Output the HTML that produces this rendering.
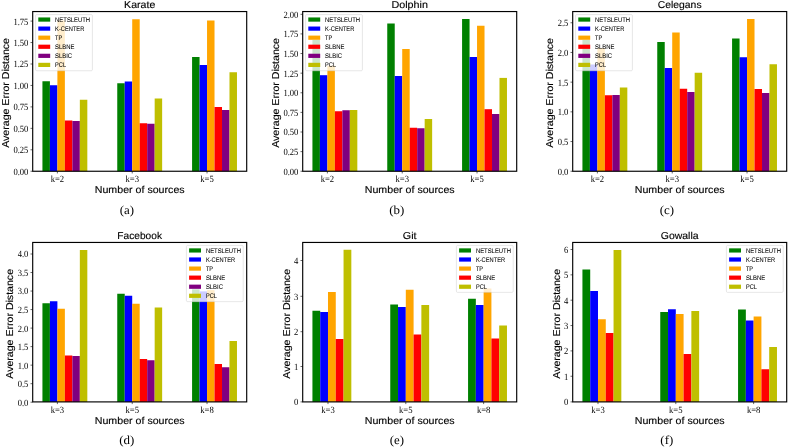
<!DOCTYPE html>
<html>
<head>
<meta charset="utf-8">
<title>Average Error Distance</title>
<style>
html,body{margin:0;padding:0;background:#fff;}
body{width:788px;height:448px;overflow:hidden;font-family:"Liberation Sans",sans-serif;}
svg{display:block;will-change:transform;}
text{fill:#000;}
</style>
</head>
<body>
<svg width="788" height="448" viewBox="0 0 788 448" text-rendering="geometricPrecision">
<defs><filter id="gs" filterUnits="userSpaceOnUse" x="0" y="0" width="788" height="448"><feOffset dx="0" dy="0"/></filter></defs>
<rect x="0" y="0" width="788" height="448" fill="#fff"/>
<g filter="url(#gs)">
<g>
<rect x="42.43" y="81.25" width="7.48" height="90" fill="#008000"/>
<rect x="49.91" y="85.25" width="7.48" height="86" fill="#0000ff"/>
<rect x="57.39" y="20.5" width="7.48" height="150.75" fill="#ffa500"/>
<rect x="64.87" y="120.5" width="7.48" height="50.75" fill="#ff0000"/>
<rect x="72.36" y="121" width="7.48" height="50.25" fill="#800080"/>
<rect x="79.84" y="99.75" width="7.48" height="71.5" fill="#bfbf00"/>
<rect x="117.25" y="83.25" width="7.48" height="88" fill="#008000"/>
<rect x="124.73" y="81.5" width="7.48" height="89.75" fill="#0000ff"/>
<rect x="132.22" y="19.25" width="7.48" height="152" fill="#ffa500"/>
<rect x="139.7" y="123.25" width="7.48" height="48" fill="#ff0000"/>
<rect x="147.18" y="123.75" width="7.48" height="47.5" fill="#800080"/>
<rect x="154.67" y="98.5" width="7.48" height="72.75" fill="#bfbf00"/>
<rect x="192.08" y="57" width="7.48" height="114.25" fill="#008000"/>
<rect x="199.56" y="65" width="7.48" height="106.25" fill="#0000ff"/>
<rect x="207.04" y="20.5" width="7.48" height="150.75" fill="#ffa500"/>
<rect x="214.53" y="107" width="7.48" height="64.25" fill="#ff0000"/>
<rect x="222.01" y="110" width="7.48" height="61.25" fill="#800080"/>
<rect x="229.49" y="72.25" width="7.48" height="99" fill="#bfbf00"/>
<path d="M57.39 171.25v2.2M132.22 171.25v2.2M207.04 171.25v2.2M32.7 171.25h-2.2M32.7 149.8h-2.2M32.7 128.35h-2.2M32.7 106.9h-2.2M32.7 85.45h-2.2M32.7 64h-2.2M32.7 42.55h-2.2M32.7 21.1h-2.2" stroke="#000" stroke-width="0.6" fill="none"/>
<rect x="32.7" y="11.55" width="214" height="159.7" fill="none" stroke="#000" stroke-width="1.15"/>
<text x="57.39" y="182" font-family='"Liberation Serif", serif' font-size="9.5" text-anchor="middle" textLength="13.5" lengthAdjust="spacingAndGlyphs" >k=2</text>
<text x="132.22" y="182" font-family='"Liberation Serif", serif' font-size="9.5" text-anchor="middle" textLength="13.5" lengthAdjust="spacingAndGlyphs" >k=3</text>
<text x="207.04" y="182" font-family='"Liberation Serif", serif' font-size="9.5" text-anchor="middle" textLength="13.5" lengthAdjust="spacingAndGlyphs" >k=5</text>
<text x="28.4" y="174.65" font-family='"Liberation Serif", serif' font-size="9.5" text-anchor="end" textLength="15" lengthAdjust="spacingAndGlyphs" >0.00</text>
<text x="28.4" y="153.2" font-family='"Liberation Serif", serif' font-size="9.5" text-anchor="end" textLength="15" lengthAdjust="spacingAndGlyphs" >0.25</text>
<text x="28.4" y="131.75" font-family='"Liberation Serif", serif' font-size="9.5" text-anchor="end" textLength="15" lengthAdjust="spacingAndGlyphs" >0.50</text>
<text x="28.4" y="110.3" font-family='"Liberation Serif", serif' font-size="9.5" text-anchor="end" textLength="15" lengthAdjust="spacingAndGlyphs" >0.75</text>
<text x="28.4" y="88.85" font-family='"Liberation Serif", serif' font-size="9.5" text-anchor="end" textLength="15" lengthAdjust="spacingAndGlyphs" >1.00</text>
<text x="28.4" y="67.4" font-family='"Liberation Serif", serif' font-size="9.5" text-anchor="end" textLength="15" lengthAdjust="spacingAndGlyphs" >1.25</text>
<text x="28.4" y="45.95" font-family='"Liberation Serif", serif' font-size="9.5" text-anchor="end" textLength="15" lengthAdjust="spacingAndGlyphs" >1.50</text>
<text x="28.4" y="24.5" font-family='"Liberation Serif", serif' font-size="9.5" text-anchor="end" textLength="15" lengthAdjust="spacingAndGlyphs" >1.75</text>
<text x="139.7" y="8.05" font-family='"Liberation Sans", sans-serif' font-size="10" text-anchor="middle" textLength="31.18" lengthAdjust="spacingAndGlyphs" stroke="#000" stroke-width="0.14">Karate</text>
<text x="139.7" y="192.95" font-family='"Liberation Sans", sans-serif' font-size="10" text-anchor="middle" textLength="89.86" lengthAdjust="spacingAndGlyphs" stroke="#000" stroke-width="0.14">Number of sources</text>
<text transform="translate(8.5 92.95) rotate(-90)" font-family='"Liberation Sans", sans-serif' font-size="10" text-anchor="middle" textLength="109.75" lengthAdjust="spacingAndGlyphs" stroke="#000" stroke-width="0.14">Average Error Distance</text>
<text x="126.8" y="213.55" font-family='"Liberation Serif", serif' font-size="12.2" text-anchor="middle" textLength="14.35" lengthAdjust="spacingAndGlyphs" >(a)</text>
<rect x="35.6" y="14.55" width="56.8" height="56.2" rx="1.2" ry="1.2" fill="#fff" fill-opacity="0.8" stroke="#ccc" stroke-opacity="0.8" stroke-width="0.6"/>
<rect x="38.3" y="17.45" width="11.9" height="4.2" fill="#008000"/>
<text x="55.1" y="21.75" font-family='"Liberation Sans", sans-serif' font-size="6.7" text-anchor="start" textLength="35.04" lengthAdjust="spacingAndGlyphs" stroke="#000" stroke-width="0.06">NETSLEUTH</text>
<rect x="38.3" y="26.52" width="11.9" height="4.2" fill="#0000ff"/>
<text x="55.1" y="30.82" font-family='"Liberation Sans", sans-serif' font-size="6.7" text-anchor="start" textLength="29.22" lengthAdjust="spacingAndGlyphs" stroke="#000" stroke-width="0.06">K-CENTER</text>
<rect x="38.3" y="35.59" width="11.9" height="4.2" fill="#ffa500"/>
<text x="55.1" y="39.89" font-family='"Liberation Sans", sans-serif' font-size="6.7" text-anchor="start" textLength="7.2" lengthAdjust="spacingAndGlyphs" stroke="#000" stroke-width="0.06">TP</text>
<rect x="38.3" y="44.66" width="11.9" height="4.2" fill="#ff0000"/>
<text x="55.1" y="48.96" font-family='"Liberation Sans", sans-serif' font-size="6.7" text-anchor="start" textLength="19.32" lengthAdjust="spacingAndGlyphs" stroke="#000" stroke-width="0.06">SLBNE</text>
<rect x="38.3" y="53.73" width="11.9" height="4.2" fill="#800080"/>
<text x="55.1" y="58.03" font-family='"Liberation Sans", sans-serif' font-size="6.7" text-anchor="start" textLength="17.03" lengthAdjust="spacingAndGlyphs" stroke="#000" stroke-width="0.06">SLBIC</text>
<rect x="38.3" y="62.8" width="11.9" height="4.2" fill="#bfbf00"/>
<text x="55.1" y="67.1" font-family='"Liberation Sans", sans-serif' font-size="6.7" text-anchor="start" textLength="11.02" lengthAdjust="spacingAndGlyphs" stroke="#000" stroke-width="0.06">PCL</text>
</g>
<g>
<rect x="312.43" y="40" width="7.48" height="131.25" fill="#008000"/>
<rect x="319.91" y="75.2" width="7.48" height="96.05" fill="#0000ff"/>
<rect x="327.39" y="65.75" width="7.48" height="105.5" fill="#ffa500"/>
<rect x="334.87" y="111.25" width="7.48" height="60" fill="#ff0000"/>
<rect x="342.36" y="110.25" width="7.48" height="61" fill="#800080"/>
<rect x="349.84" y="110" width="7.48" height="61.25" fill="#bfbf00"/>
<rect x="387.25" y="23.5" width="7.48" height="147.75" fill="#008000"/>
<rect x="394.73" y="76" width="7.48" height="95.25" fill="#0000ff"/>
<rect x="402.22" y="49" width="7.48" height="122.25" fill="#ffa500"/>
<rect x="409.7" y="127.75" width="7.48" height="43.5" fill="#ff0000"/>
<rect x="417.18" y="128.25" width="7.48" height="43" fill="#800080"/>
<rect x="424.67" y="119" width="7.48" height="52.25" fill="#bfbf00"/>
<rect x="462.08" y="19" width="7.48" height="152.25" fill="#008000"/>
<rect x="469.56" y="57" width="7.48" height="114.25" fill="#0000ff"/>
<rect x="477.04" y="25.75" width="7.48" height="145.5" fill="#ffa500"/>
<rect x="484.53" y="109.2" width="7.48" height="62.05" fill="#ff0000"/>
<rect x="492.01" y="114" width="7.48" height="57.25" fill="#800080"/>
<rect x="499.49" y="77.9" width="7.48" height="93.35" fill="#bfbf00"/>
<path d="M327.39 171.25v2.2M402.22 171.25v2.2M477.04 171.25v2.2M302.7 171.25h-2.2M302.7 151.63h-2.2M302.7 132.01h-2.2M302.7 112.39h-2.2M302.7 92.78h-2.2M302.7 73.16h-2.2M302.7 53.54h-2.2M302.7 33.92h-2.2M302.7 14.3h-2.2" stroke="#000" stroke-width="0.6" fill="none"/>
<rect x="302.7" y="11.55" width="214" height="159.7" fill="none" stroke="#000" stroke-width="1.15"/>
<text x="327.39" y="182" font-family='"Liberation Serif", serif' font-size="9.5" text-anchor="middle" textLength="13.5" lengthAdjust="spacingAndGlyphs" >k=2</text>
<text x="402.22" y="182" font-family='"Liberation Serif", serif' font-size="9.5" text-anchor="middle" textLength="13.5" lengthAdjust="spacingAndGlyphs" >k=3</text>
<text x="477.04" y="182" font-family='"Liberation Serif", serif' font-size="9.5" text-anchor="middle" textLength="13.5" lengthAdjust="spacingAndGlyphs" >k=5</text>
<text x="298.4" y="174.65" font-family='"Liberation Serif", serif' font-size="9.5" text-anchor="end" textLength="15" lengthAdjust="spacingAndGlyphs" >0.00</text>
<text x="298.4" y="155.03" font-family='"Liberation Serif", serif' font-size="9.5" text-anchor="end" textLength="15" lengthAdjust="spacingAndGlyphs" >0.25</text>
<text x="298.4" y="135.41" font-family='"Liberation Serif", serif' font-size="9.5" text-anchor="end" textLength="15" lengthAdjust="spacingAndGlyphs" >0.50</text>
<text x="298.4" y="115.79" font-family='"Liberation Serif", serif' font-size="9.5" text-anchor="end" textLength="15" lengthAdjust="spacingAndGlyphs" >0.75</text>
<text x="298.4" y="96.18" font-family='"Liberation Serif", serif' font-size="9.5" text-anchor="end" textLength="15" lengthAdjust="spacingAndGlyphs" >1.00</text>
<text x="298.4" y="76.56" font-family='"Liberation Serif", serif' font-size="9.5" text-anchor="end" textLength="15" lengthAdjust="spacingAndGlyphs" >1.25</text>
<text x="298.4" y="56.94" font-family='"Liberation Serif", serif' font-size="9.5" text-anchor="end" textLength="15" lengthAdjust="spacingAndGlyphs" >1.50</text>
<text x="298.4" y="37.32" font-family='"Liberation Serif", serif' font-size="9.5" text-anchor="end" textLength="15" lengthAdjust="spacingAndGlyphs" >1.75</text>
<text x="298.4" y="17.7" font-family='"Liberation Serif", serif' font-size="9.5" text-anchor="end" textLength="15" lengthAdjust="spacingAndGlyphs" >2.00</text>
<text x="409.7" y="8.05" font-family='"Liberation Sans", sans-serif' font-size="10" text-anchor="middle" textLength="36.48" lengthAdjust="spacingAndGlyphs" stroke="#000" stroke-width="0.14">Dolphin</text>
<text x="409.7" y="192.95" font-family='"Liberation Sans", sans-serif' font-size="10" text-anchor="middle" textLength="89.86" lengthAdjust="spacingAndGlyphs" stroke="#000" stroke-width="0.14">Number of sources</text>
<text transform="translate(278.5 92.95) rotate(-90)" font-family='"Liberation Sans", sans-serif' font-size="10" text-anchor="middle" textLength="109.75" lengthAdjust="spacingAndGlyphs" stroke="#000" stroke-width="0.14">Average Error Distance</text>
<text x="396.8" y="213.55" font-family='"Liberation Serif", serif' font-size="12.2" text-anchor="middle" textLength="15.08" lengthAdjust="spacingAndGlyphs" >(b)</text>
<rect x="305.6" y="14.55" width="56.8" height="56.2" rx="1.2" ry="1.2" fill="#fff" fill-opacity="0.8" stroke="#ccc" stroke-opacity="0.8" stroke-width="0.6"/>
<rect x="308.3" y="17.45" width="11.9" height="4.2" fill="#008000"/>
<text x="325.1" y="21.75" font-family='"Liberation Sans", sans-serif' font-size="6.7" text-anchor="start" textLength="35.04" lengthAdjust="spacingAndGlyphs" stroke="#000" stroke-width="0.06">NETSLEUTH</text>
<rect x="308.3" y="26.52" width="11.9" height="4.2" fill="#0000ff"/>
<text x="325.1" y="30.82" font-family='"Liberation Sans", sans-serif' font-size="6.7" text-anchor="start" textLength="29.22" lengthAdjust="spacingAndGlyphs" stroke="#000" stroke-width="0.06">K-CENTER</text>
<rect x="308.3" y="35.59" width="11.9" height="4.2" fill="#ffa500"/>
<text x="325.1" y="39.89" font-family='"Liberation Sans", sans-serif' font-size="6.7" text-anchor="start" textLength="7.2" lengthAdjust="spacingAndGlyphs" stroke="#000" stroke-width="0.06">TP</text>
<rect x="308.3" y="44.66" width="11.9" height="4.2" fill="#ff0000"/>
<text x="325.1" y="48.96" font-family='"Liberation Sans", sans-serif' font-size="6.7" text-anchor="start" textLength="19.32" lengthAdjust="spacingAndGlyphs" stroke="#000" stroke-width="0.06">SLBNE</text>
<rect x="308.3" y="53.73" width="11.9" height="4.2" fill="#800080"/>
<text x="325.1" y="58.03" font-family='"Liberation Sans", sans-serif' font-size="6.7" text-anchor="start" textLength="17.03" lengthAdjust="spacingAndGlyphs" stroke="#000" stroke-width="0.06">SLBIC</text>
<rect x="308.3" y="62.8" width="11.9" height="4.2" fill="#bfbf00"/>
<text x="325.1" y="67.1" font-family='"Liberation Sans", sans-serif' font-size="6.7" text-anchor="start" textLength="11.02" lengthAdjust="spacingAndGlyphs" stroke="#000" stroke-width="0.06">PCL</text>
</g>
<g>
<rect x="582.43" y="40" width="7.48" height="131.25" fill="#008000"/>
<rect x="589.91" y="64.5" width="7.48" height="106.75" fill="#0000ff"/>
<rect x="597.39" y="48" width="7.48" height="123.25" fill="#ffa500"/>
<rect x="604.87" y="95.25" width="7.48" height="76" fill="#ff0000"/>
<rect x="612.36" y="95" width="7.48" height="76.25" fill="#800080"/>
<rect x="619.84" y="87.5" width="7.48" height="83.75" fill="#bfbf00"/>
<rect x="657.25" y="42" width="7.48" height="129.25" fill="#008000"/>
<rect x="664.73" y="68" width="7.48" height="103.25" fill="#0000ff"/>
<rect x="672.22" y="32.5" width="7.48" height="138.75" fill="#ffa500"/>
<rect x="679.7" y="88.75" width="7.48" height="82.5" fill="#ff0000"/>
<rect x="687.18" y="92" width="7.48" height="79.25" fill="#800080"/>
<rect x="694.67" y="72.75" width="7.48" height="98.5" fill="#bfbf00"/>
<rect x="732.08" y="38.5" width="7.48" height="132.75" fill="#008000"/>
<rect x="739.56" y="57.25" width="7.48" height="114" fill="#0000ff"/>
<rect x="747.04" y="19" width="7.48" height="152.25" fill="#ffa500"/>
<rect x="754.53" y="89" width="7.48" height="82.25" fill="#ff0000"/>
<rect x="762.01" y="93" width="7.48" height="78.25" fill="#800080"/>
<rect x="769.49" y="64.25" width="7.48" height="107" fill="#bfbf00"/>
<path d="M597.39 171.25v2.2M672.22 171.25v2.2M747.04 171.25v2.2M572.7 171.25h-2.2M572.7 141.55h-2.2M572.7 111.85h-2.2M572.7 82.15h-2.2M572.7 52.45h-2.2M572.7 22.75h-2.2" stroke="#000" stroke-width="0.6" fill="none"/>
<rect x="572.7" y="11.55" width="214" height="159.7" fill="none" stroke="#000" stroke-width="1.15"/>
<text x="597.39" y="182" font-family='"Liberation Serif", serif' font-size="9.5" text-anchor="middle" textLength="13.5" lengthAdjust="spacingAndGlyphs" >k=2</text>
<text x="672.22" y="182" font-family='"Liberation Serif", serif' font-size="9.5" text-anchor="middle" textLength="13.5" lengthAdjust="spacingAndGlyphs" >k=3</text>
<text x="747.04" y="182" font-family='"Liberation Serif", serif' font-size="9.5" text-anchor="middle" textLength="13.5" lengthAdjust="spacingAndGlyphs" >k=5</text>
<text x="568.4" y="174.65" font-family='"Liberation Serif", serif' font-size="9.5" text-anchor="end" textLength="10.7" lengthAdjust="spacingAndGlyphs" >0.0</text>
<text x="568.4" y="144.95" font-family='"Liberation Serif", serif' font-size="9.5" text-anchor="end" textLength="10.7" lengthAdjust="spacingAndGlyphs" >0.5</text>
<text x="568.4" y="115.25" font-family='"Liberation Serif", serif' font-size="9.5" text-anchor="end" textLength="10.7" lengthAdjust="spacingAndGlyphs" >1.0</text>
<text x="568.4" y="85.55" font-family='"Liberation Serif", serif' font-size="9.5" text-anchor="end" textLength="10.7" lengthAdjust="spacingAndGlyphs" >1.5</text>
<text x="568.4" y="55.85" font-family='"Liberation Serif", serif' font-size="9.5" text-anchor="end" textLength="10.7" lengthAdjust="spacingAndGlyphs" >2.0</text>
<text x="568.4" y="26.15" font-family='"Liberation Serif", serif' font-size="9.5" text-anchor="end" textLength="10.7" lengthAdjust="spacingAndGlyphs" >2.5</text>
<text x="679.7" y="8.05" font-family='"Liberation Sans", sans-serif' font-size="10" text-anchor="middle" textLength="43.78" lengthAdjust="spacingAndGlyphs" stroke="#000" stroke-width="0.14">Celegans</text>
<text x="679.7" y="192.95" font-family='"Liberation Sans", sans-serif' font-size="10" text-anchor="middle" textLength="89.86" lengthAdjust="spacingAndGlyphs" stroke="#000" stroke-width="0.14">Number of sources</text>
<text transform="translate(552.8 92.95) rotate(-90)" font-family='"Liberation Sans", sans-serif' font-size="10" text-anchor="middle" textLength="109.75" lengthAdjust="spacingAndGlyphs" stroke="#000" stroke-width="0.14">Average Error Distance</text>
<text x="666.8" y="213.55" font-family='"Liberation Serif", serif' font-size="12.2" text-anchor="middle" textLength="14.35" lengthAdjust="spacingAndGlyphs" >(c)</text>
<rect x="575.6" y="14.55" width="56.8" height="56.2" rx="1.2" ry="1.2" fill="#fff" fill-opacity="0.8" stroke="#ccc" stroke-opacity="0.8" stroke-width="0.6"/>
<rect x="578.3" y="17.45" width="11.9" height="4.2" fill="#008000"/>
<text x="595.1" y="21.75" font-family='"Liberation Sans", sans-serif' font-size="6.7" text-anchor="start" textLength="35.04" lengthAdjust="spacingAndGlyphs" stroke="#000" stroke-width="0.06">NETSLEUTH</text>
<rect x="578.3" y="26.52" width="11.9" height="4.2" fill="#0000ff"/>
<text x="595.1" y="30.82" font-family='"Liberation Sans", sans-serif' font-size="6.7" text-anchor="start" textLength="29.22" lengthAdjust="spacingAndGlyphs" stroke="#000" stroke-width="0.06">K-CENTER</text>
<rect x="578.3" y="35.59" width="11.9" height="4.2" fill="#ffa500"/>
<text x="595.1" y="39.89" font-family='"Liberation Sans", sans-serif' font-size="6.7" text-anchor="start" textLength="7.2" lengthAdjust="spacingAndGlyphs" stroke="#000" stroke-width="0.06">TP</text>
<rect x="578.3" y="44.66" width="11.9" height="4.2" fill="#ff0000"/>
<text x="595.1" y="48.96" font-family='"Liberation Sans", sans-serif' font-size="6.7" text-anchor="start" textLength="19.32" lengthAdjust="spacingAndGlyphs" stroke="#000" stroke-width="0.06">SLBNE</text>
<rect x="578.3" y="53.73" width="11.9" height="4.2" fill="#800080"/>
<text x="595.1" y="58.03" font-family='"Liberation Sans", sans-serif' font-size="6.7" text-anchor="start" textLength="17.03" lengthAdjust="spacingAndGlyphs" stroke="#000" stroke-width="0.06">SLBIC</text>
<rect x="578.3" y="62.8" width="11.9" height="4.2" fill="#bfbf00"/>
<text x="595.1" y="67.1" font-family='"Liberation Sans", sans-serif' font-size="6.7" text-anchor="start" textLength="11.02" lengthAdjust="spacingAndGlyphs" stroke="#000" stroke-width="0.06">PCL</text>
</g>
<g>
<rect x="42.43" y="303.25" width="7.48" height="98.65" fill="#008000"/>
<rect x="49.91" y="301.25" width="7.48" height="100.65" fill="#0000ff"/>
<rect x="57.39" y="308.75" width="7.48" height="93.15" fill="#ffa500"/>
<rect x="64.87" y="355.5" width="7.48" height="46.4" fill="#ff0000"/>
<rect x="72.36" y="356" width="7.48" height="45.9" fill="#800080"/>
<rect x="79.84" y="250" width="7.48" height="151.9" fill="#bfbf00"/>
<rect x="117.25" y="293.75" width="7.48" height="108.15" fill="#008000"/>
<rect x="124.73" y="295.75" width="7.48" height="106.15" fill="#0000ff"/>
<rect x="132.22" y="303.75" width="7.48" height="98.15" fill="#ffa500"/>
<rect x="139.7" y="359" width="7.48" height="42.9" fill="#ff0000"/>
<rect x="147.18" y="360.25" width="7.48" height="41.65" fill="#800080"/>
<rect x="154.67" y="307.5" width="7.48" height="94.4" fill="#bfbf00"/>
<rect x="192.08" y="289.3" width="7.48" height="112.6" fill="#008000"/>
<rect x="199.56" y="291.4" width="7.48" height="110.5" fill="#0000ff"/>
<rect x="207.04" y="290.1" width="7.48" height="111.8" fill="#ffa500"/>
<rect x="214.53" y="364" width="7.48" height="37.9" fill="#ff0000"/>
<rect x="222.01" y="367.25" width="7.48" height="34.65" fill="#800080"/>
<rect x="229.49" y="341" width="7.48" height="60.9" fill="#bfbf00"/>
<path d="M57.39 401.9v2.2M132.22 401.9v2.2M207.04 401.9v2.2M32.7 402.2h-2.2M32.7 383.68h-2.2M32.7 365.15h-2.2M32.7 346.62h-2.2M32.7 328.1h-2.2M32.7 309.57h-2.2M32.7 291.05h-2.2M32.7 272.52h-2.2M32.7 254h-2.2" stroke="#000" stroke-width="0.6" fill="none"/>
<rect x="32.7" y="242.45" width="214" height="159.45" fill="none" stroke="#000" stroke-width="1.15"/>
<text x="57.39" y="412.65" font-family='"Liberation Serif", serif' font-size="9.5" text-anchor="middle" textLength="13.5" lengthAdjust="spacingAndGlyphs" >k=3</text>
<text x="132.22" y="412.65" font-family='"Liberation Serif", serif' font-size="9.5" text-anchor="middle" textLength="13.5" lengthAdjust="spacingAndGlyphs" >k=5</text>
<text x="207.04" y="412.65" font-family='"Liberation Serif", serif' font-size="9.5" text-anchor="middle" textLength="13.5" lengthAdjust="spacingAndGlyphs" >k=8</text>
<text x="28.4" y="405.6" font-family='"Liberation Serif", serif' font-size="9.5" text-anchor="end" textLength="10.7" lengthAdjust="spacingAndGlyphs" >0.0</text>
<text x="28.4" y="387.08" font-family='"Liberation Serif", serif' font-size="9.5" text-anchor="end" textLength="10.7" lengthAdjust="spacingAndGlyphs" >0.5</text>
<text x="28.4" y="368.55" font-family='"Liberation Serif", serif' font-size="9.5" text-anchor="end" textLength="10.7" lengthAdjust="spacingAndGlyphs" >1.0</text>
<text x="28.4" y="350.02" font-family='"Liberation Serif", serif' font-size="9.5" text-anchor="end" textLength="10.7" lengthAdjust="spacingAndGlyphs" >1.5</text>
<text x="28.4" y="331.5" font-family='"Liberation Serif", serif' font-size="9.5" text-anchor="end" textLength="10.7" lengthAdjust="spacingAndGlyphs" >2.0</text>
<text x="28.4" y="312.97" font-family='"Liberation Serif", serif' font-size="9.5" text-anchor="end" textLength="10.7" lengthAdjust="spacingAndGlyphs" >2.5</text>
<text x="28.4" y="294.45" font-family='"Liberation Serif", serif' font-size="9.5" text-anchor="end" textLength="10.7" lengthAdjust="spacingAndGlyphs" >3.0</text>
<text x="28.4" y="275.92" font-family='"Liberation Serif", serif' font-size="9.5" text-anchor="end" textLength="10.7" lengthAdjust="spacingAndGlyphs" >3.5</text>
<text x="28.4" y="257.4" font-family='"Liberation Serif", serif' font-size="9.5" text-anchor="end" textLength="10.7" lengthAdjust="spacingAndGlyphs" >4.0</text>
<text x="139.7" y="238.95" font-family='"Liberation Sans", sans-serif' font-size="10" text-anchor="middle" textLength="44.64" lengthAdjust="spacingAndGlyphs" stroke="#000" stroke-width="0.14">Facebook</text>
<text x="139.7" y="423.6" font-family='"Liberation Sans", sans-serif' font-size="10" text-anchor="middle" textLength="89.86" lengthAdjust="spacingAndGlyphs" stroke="#000" stroke-width="0.14">Number of sources</text>
<text transform="translate(12.8 323.85) rotate(-90)" font-family='"Liberation Sans", sans-serif' font-size="10" text-anchor="middle" textLength="109.75" lengthAdjust="spacingAndGlyphs" stroke="#000" stroke-width="0.14">Average Error Distance</text>
<text x="126.8" y="444.2" font-family='"Liberation Serif", serif' font-size="12.2" text-anchor="middle" textLength="15.08" lengthAdjust="spacingAndGlyphs" >(d)</text>
<rect x="186.4" y="245.45" width="56.8" height="56.2" rx="1.2" ry="1.2" fill="#fff" fill-opacity="0.8" stroke="#ccc" stroke-opacity="0.8" stroke-width="0.6"/>
<rect x="189.1" y="248.35" width="11.9" height="4.2" fill="#008000"/>
<text x="205.9" y="252.65" font-family='"Liberation Sans", sans-serif' font-size="6.7" text-anchor="start" textLength="35.04" lengthAdjust="spacingAndGlyphs" stroke="#000" stroke-width="0.06">NETSLEUTH</text>
<rect x="189.1" y="257.42" width="11.9" height="4.2" fill="#0000ff"/>
<text x="205.9" y="261.72" font-family='"Liberation Sans", sans-serif' font-size="6.7" text-anchor="start" textLength="29.22" lengthAdjust="spacingAndGlyphs" stroke="#000" stroke-width="0.06">K-CENTER</text>
<rect x="189.1" y="266.49" width="11.9" height="4.2" fill="#ffa500"/>
<text x="205.9" y="270.79" font-family='"Liberation Sans", sans-serif' font-size="6.7" text-anchor="start" textLength="7.2" lengthAdjust="spacingAndGlyphs" stroke="#000" stroke-width="0.06">TP</text>
<rect x="189.1" y="275.56" width="11.9" height="4.2" fill="#ff0000"/>
<text x="205.9" y="279.86" font-family='"Liberation Sans", sans-serif' font-size="6.7" text-anchor="start" textLength="19.32" lengthAdjust="spacingAndGlyphs" stroke="#000" stroke-width="0.06">SLBNE</text>
<rect x="189.1" y="284.63" width="11.9" height="4.2" fill="#800080"/>
<text x="205.9" y="288.93" font-family='"Liberation Sans", sans-serif' font-size="6.7" text-anchor="start" textLength="17.03" lengthAdjust="spacingAndGlyphs" stroke="#000" stroke-width="0.06">SLBIC</text>
<rect x="189.1" y="293.7" width="11.9" height="4.2" fill="#bfbf00"/>
<text x="205.9" y="298" font-family='"Liberation Sans", sans-serif' font-size="6.7" text-anchor="start" textLength="11.02" lengthAdjust="spacingAndGlyphs" stroke="#000" stroke-width="0.06">PCL</text>
</g>
<g>
<rect x="312.43" y="310.75" width="7.78" height="91.15" fill="#008000"/>
<rect x="320.21" y="312" width="7.78" height="89.9" fill="#0000ff"/>
<rect x="327.99" y="292" width="7.78" height="109.9" fill="#ffa500"/>
<rect x="335.77" y="339" width="7.78" height="62.9" fill="#ff0000"/>
<rect x="343.55" y="249.75" width="7.78" height="152.15" fill="#bfbf00"/>
<rect x="390.25" y="304.5" width="7.78" height="97.4" fill="#008000"/>
<rect x="398.03" y="307" width="7.78" height="94.9" fill="#0000ff"/>
<rect x="405.81" y="289.75" width="7.78" height="112.15" fill="#ffa500"/>
<rect x="413.59" y="334.5" width="7.78" height="67.4" fill="#ff0000"/>
<rect x="421.37" y="305" width="7.78" height="96.9" fill="#bfbf00"/>
<rect x="468.06" y="298.75" width="7.78" height="103.15" fill="#008000"/>
<rect x="475.85" y="305" width="7.78" height="96.9" fill="#0000ff"/>
<rect x="483.63" y="288.5" width="7.78" height="113.4" fill="#ffa500"/>
<rect x="491.41" y="338.5" width="7.78" height="63.4" fill="#ff0000"/>
<rect x="499.19" y="325.5" width="7.78" height="76.4" fill="#bfbf00"/>
<path d="M327.99 401.9v2.2M405.81 401.9v2.2M483.63 401.9v2.2M302.7 401.9h-2.2M302.7 366.5h-2.2M302.7 331.7h-2.2M302.7 296.3h-2.2M302.7 260.5h-2.2" stroke="#000" stroke-width="0.6" fill="none"/>
<rect x="302.7" y="242.45" width="214" height="159.45" fill="none" stroke="#000" stroke-width="1.15"/>
<text x="327.99" y="412.65" font-family='"Liberation Serif", serif' font-size="9.5" text-anchor="middle" textLength="13.5" lengthAdjust="spacingAndGlyphs" >k=3</text>
<text x="405.81" y="412.65" font-family='"Liberation Serif", serif' font-size="9.5" text-anchor="middle" textLength="13.5" lengthAdjust="spacingAndGlyphs" >k=5</text>
<text x="483.63" y="412.65" font-family='"Liberation Serif", serif' font-size="9.5" text-anchor="middle" textLength="13.5" lengthAdjust="spacingAndGlyphs" >k=8</text>
<text x="298.4" y="405.3" font-family='"Liberation Serif", serif' font-size="9.5" text-anchor="end" textLength="4.3" lengthAdjust="spacingAndGlyphs" >0</text>
<text x="298.4" y="369.9" font-family='"Liberation Serif", serif' font-size="9.5" text-anchor="end" textLength="4.3" lengthAdjust="spacingAndGlyphs" >1</text>
<text x="298.4" y="335.1" font-family='"Liberation Serif", serif' font-size="9.5" text-anchor="end" textLength="4.3" lengthAdjust="spacingAndGlyphs" >2</text>
<text x="298.4" y="299.7" font-family='"Liberation Serif", serif' font-size="9.5" text-anchor="end" textLength="4.3" lengthAdjust="spacingAndGlyphs" >3</text>
<text x="298.4" y="263.9" font-family='"Liberation Serif", serif' font-size="9.5" text-anchor="end" textLength="4.3" lengthAdjust="spacingAndGlyphs" >4</text>
<text x="409.7" y="238.95" font-family='"Liberation Sans", sans-serif' font-size="10" text-anchor="middle" textLength="13.73" lengthAdjust="spacingAndGlyphs" stroke="#000" stroke-width="0.14">Git</text>
<text x="409.7" y="423.6" font-family='"Liberation Sans", sans-serif' font-size="10" text-anchor="middle" textLength="89.86" lengthAdjust="spacingAndGlyphs" stroke="#000" stroke-width="0.14">Number of sources</text>
<text transform="translate(289.7 323.85) rotate(-90)" font-family='"Liberation Sans", sans-serif' font-size="10" text-anchor="middle" textLength="109.75" lengthAdjust="spacingAndGlyphs" stroke="#000" stroke-width="0.14">Average Error Distance</text>
<text x="396.8" y="444.2" font-family='"Liberation Serif", serif' font-size="12.2" text-anchor="middle" textLength="14.35" lengthAdjust="spacingAndGlyphs" >(e)</text>
<rect x="456.4" y="245.45" width="56.8" height="46.9" rx="1.2" ry="1.2" fill="#fff" fill-opacity="0.8" stroke="#ccc" stroke-opacity="0.8" stroke-width="0.6"/>
<rect x="459.1" y="248.35" width="11.9" height="4.2" fill="#008000"/>
<text x="475.9" y="252.65" font-family='"Liberation Sans", sans-serif' font-size="6.7" text-anchor="start" textLength="35.04" lengthAdjust="spacingAndGlyphs" stroke="#000" stroke-width="0.06">NETSLEUTH</text>
<rect x="459.1" y="257.42" width="11.9" height="4.2" fill="#0000ff"/>
<text x="475.9" y="261.72" font-family='"Liberation Sans", sans-serif' font-size="6.7" text-anchor="start" textLength="29.22" lengthAdjust="spacingAndGlyphs" stroke="#000" stroke-width="0.06">K-CENTER</text>
<rect x="459.1" y="266.49" width="11.9" height="4.2" fill="#ffa500"/>
<text x="475.9" y="270.79" font-family='"Liberation Sans", sans-serif' font-size="6.7" text-anchor="start" textLength="7.2" lengthAdjust="spacingAndGlyphs" stroke="#000" stroke-width="0.06">TP</text>
<rect x="459.1" y="275.56" width="11.9" height="4.2" fill="#ff0000"/>
<text x="475.9" y="279.86" font-family='"Liberation Sans", sans-serif' font-size="6.7" text-anchor="start" textLength="19.32" lengthAdjust="spacingAndGlyphs" stroke="#000" stroke-width="0.06">SLBNE</text>
<rect x="459.1" y="284.63" width="11.9" height="4.2" fill="#bfbf00"/>
<text x="475.9" y="288.93" font-family='"Liberation Sans", sans-serif' font-size="6.7" text-anchor="start" textLength="11.02" lengthAdjust="spacingAndGlyphs" stroke="#000" stroke-width="0.06">PCL</text>
</g>
<g>
<rect x="582.43" y="269.5" width="7.78" height="132.4" fill="#008000"/>
<rect x="590.21" y="291" width="7.78" height="110.9" fill="#0000ff"/>
<rect x="597.99" y="319.25" width="7.78" height="82.65" fill="#ffa500"/>
<rect x="605.77" y="333" width="7.78" height="68.9" fill="#ff0000"/>
<rect x="613.55" y="250" width="7.78" height="151.9" fill="#bfbf00"/>
<rect x="660.25" y="312" width="7.78" height="89.9" fill="#008000"/>
<rect x="668.03" y="309.25" width="7.78" height="92.65" fill="#0000ff"/>
<rect x="675.81" y="314" width="7.78" height="87.9" fill="#ffa500"/>
<rect x="683.59" y="354" width="7.78" height="47.9" fill="#ff0000"/>
<rect x="691.37" y="311" width="7.78" height="90.9" fill="#bfbf00"/>
<rect x="738.06" y="309.5" width="7.78" height="92.4" fill="#008000"/>
<rect x="745.85" y="320.5" width="7.78" height="81.4" fill="#0000ff"/>
<rect x="753.63" y="316.5" width="7.78" height="85.4" fill="#ffa500"/>
<rect x="761.41" y="369.25" width="7.78" height="32.65" fill="#ff0000"/>
<rect x="769.19" y="347" width="7.78" height="54.9" fill="#bfbf00"/>
<path d="M597.99 401.9v2.2M675.81 401.9v2.2M753.63 401.9v2.2M572.7 401.9h-2.2M572.7 376.25h-2.2M572.7 350.9h-2.2M572.7 325.55h-2.2M572.7 300.2h-2.2M572.7 274.85h-2.2M572.7 249.5h-2.2" stroke="#000" stroke-width="0.6" fill="none"/>
<rect x="572.7" y="242.45" width="214" height="159.45" fill="none" stroke="#000" stroke-width="1.15"/>
<text x="597.99" y="412.65" font-family='"Liberation Serif", serif' font-size="9.5" text-anchor="middle" textLength="13.5" lengthAdjust="spacingAndGlyphs" >k=3</text>
<text x="675.81" y="412.65" font-family='"Liberation Serif", serif' font-size="9.5" text-anchor="middle" textLength="13.5" lengthAdjust="spacingAndGlyphs" >k=5</text>
<text x="753.63" y="412.65" font-family='"Liberation Serif", serif' font-size="9.5" text-anchor="middle" textLength="13.5" lengthAdjust="spacingAndGlyphs" >k=8</text>
<text x="568.4" y="405.3" font-family='"Liberation Serif", serif' font-size="9.5" text-anchor="end" textLength="4.3" lengthAdjust="spacingAndGlyphs" >0</text>
<text x="568.4" y="379.65" font-family='"Liberation Serif", serif' font-size="9.5" text-anchor="end" textLength="4.3" lengthAdjust="spacingAndGlyphs" >1</text>
<text x="568.4" y="354.3" font-family='"Liberation Serif", serif' font-size="9.5" text-anchor="end" textLength="4.3" lengthAdjust="spacingAndGlyphs" >2</text>
<text x="568.4" y="328.95" font-family='"Liberation Serif", serif' font-size="9.5" text-anchor="end" textLength="4.3" lengthAdjust="spacingAndGlyphs" >3</text>
<text x="568.4" y="303.6" font-family='"Liberation Serif", serif' font-size="9.5" text-anchor="end" textLength="4.3" lengthAdjust="spacingAndGlyphs" >4</text>
<text x="568.4" y="278.25" font-family='"Liberation Serif", serif' font-size="9.5" text-anchor="end" textLength="4.3" lengthAdjust="spacingAndGlyphs" >5</text>
<text x="568.4" y="252.9" font-family='"Liberation Serif", serif' font-size="9.5" text-anchor="end" textLength="4.3" lengthAdjust="spacingAndGlyphs" >6</text>
<text x="679.7" y="238.95" font-family='"Liberation Sans", sans-serif' font-size="10" text-anchor="middle" textLength="37.87" lengthAdjust="spacingAndGlyphs" stroke="#000" stroke-width="0.14">Gowalla</text>
<text x="679.7" y="423.6" font-family='"Liberation Sans", sans-serif' font-size="10" text-anchor="middle" textLength="89.86" lengthAdjust="spacingAndGlyphs" stroke="#000" stroke-width="0.14">Number of sources</text>
<text transform="translate(559.7 323.85) rotate(-90)" font-family='"Liberation Sans", sans-serif' font-size="10" text-anchor="middle" textLength="109.75" lengthAdjust="spacingAndGlyphs" stroke="#000" stroke-width="0.14">Average Error Distance</text>
<text x="666.8" y="444.2" font-family='"Liberation Serif", serif' font-size="12.2" text-anchor="middle" textLength="12.92" lengthAdjust="spacingAndGlyphs" >(f)</text>
<rect x="726.4" y="245.45" width="56.8" height="46.9" rx="1.2" ry="1.2" fill="#fff" fill-opacity="0.8" stroke="#ccc" stroke-opacity="0.8" stroke-width="0.6"/>
<rect x="729.1" y="248.35" width="11.9" height="4.2" fill="#008000"/>
<text x="745.9" y="252.65" font-family='"Liberation Sans", sans-serif' font-size="6.7" text-anchor="start" textLength="35.04" lengthAdjust="spacingAndGlyphs" stroke="#000" stroke-width="0.06">NETSLEUTH</text>
<rect x="729.1" y="257.42" width="11.9" height="4.2" fill="#0000ff"/>
<text x="745.9" y="261.72" font-family='"Liberation Sans", sans-serif' font-size="6.7" text-anchor="start" textLength="29.22" lengthAdjust="spacingAndGlyphs" stroke="#000" stroke-width="0.06">K-CENTER</text>
<rect x="729.1" y="266.49" width="11.9" height="4.2" fill="#ffa500"/>
<text x="745.9" y="270.79" font-family='"Liberation Sans", sans-serif' font-size="6.7" text-anchor="start" textLength="7.2" lengthAdjust="spacingAndGlyphs" stroke="#000" stroke-width="0.06">TP</text>
<rect x="729.1" y="275.56" width="11.9" height="4.2" fill="#ff0000"/>
<text x="745.9" y="279.86" font-family='"Liberation Sans", sans-serif' font-size="6.7" text-anchor="start" textLength="19.32" lengthAdjust="spacingAndGlyphs" stroke="#000" stroke-width="0.06">SLBNE</text>
<rect x="729.1" y="284.63" width="11.9" height="4.2" fill="#bfbf00"/>
<text x="745.9" y="288.93" font-family='"Liberation Sans", sans-serif' font-size="6.7" text-anchor="start" textLength="11.02" lengthAdjust="spacingAndGlyphs" stroke="#000" stroke-width="0.06">PCL</text>
</g>
</g>
</svg>
</body>
</html>
